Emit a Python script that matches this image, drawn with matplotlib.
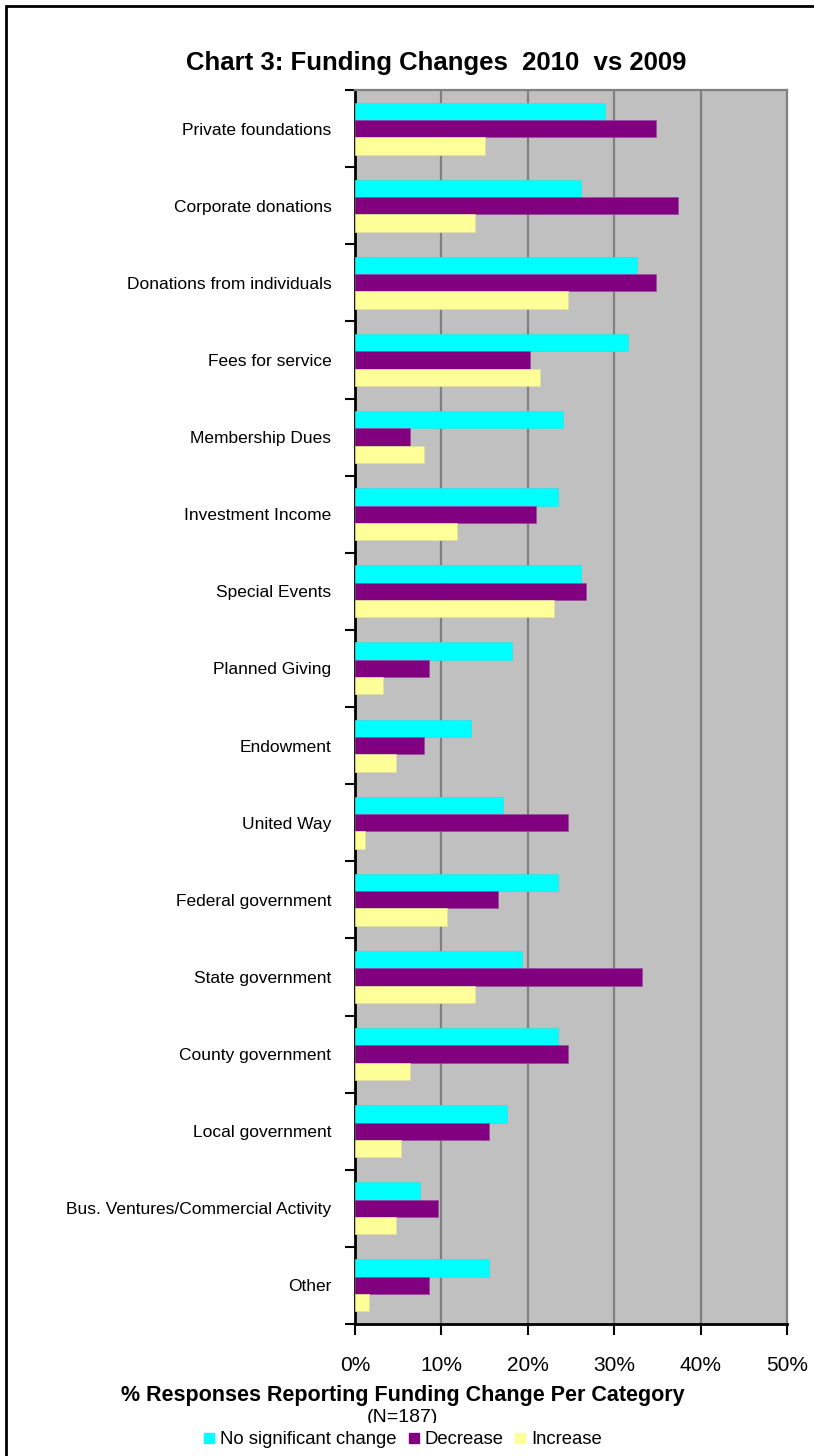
import matplotlib
matplotlib.use('Agg')
import matplotlib.pyplot as plt
from matplotlib.patches import Rectangle
from matplotlib.lines import Line2D
import numpy as np

plt.rcParams['font.family'] = ['Liberation Sans', 'DejaVu Sans']

categories = ['Private foundations', 'Corporate donations', 'Donations from individuals',
              'Fees for service', 'Membership Dues', 'Investment Income', 'Special Events',
              'Planned Giving', 'Endowment', 'United Way', 'Federal government',
              'State government', 'County government', 'Local government',
              'Bus. Ventures/Commercial Activity', 'Other']
no_change = [28.9, 26.2, 32.6, 31.6, 24.1, 23.5, 26.2, 18.2, 13.4, 17.1, 23.5, 19.3, 23.5, 17.6, 7.5, 15.5]
decrease = [34.8, 37.4, 34.8, 20.3, 6.4, 20.9, 26.7, 8.6, 8.0, 24.6, 16.6, 33.2, 24.6, 15.5, 9.6, 8.6]
increase = [15.0, 13.9, 24.6, 21.4, 8.0, 11.8, 23.0, 3.2, 4.8, 1.1, 10.7, 13.9, 6.4, 5.3, 4.8, 1.6]

W, H = 814, 1456
fig = plt.figure(figsize=(W / 100, H / 100), dpi=100)

# outer chart border (right/bottom edges run off the picture)
fig.patches.append(Rectangle((6 / W, -0.1), 1.2, 1 - 6 / H + 0.1, transform=fig.transFigure,
                             fill=False, edgecolor='black', linewidth=2, zorder=0))

ax = fig.add_axes([355 / W, 1 - 1324 / H, (787 - 355) / W, (1324 - 90) / H])
ax.set_facecolor('#C0C0C0')

y = np.arange(len(categories))
h = 0.225
ax.barh(y - h, no_change, height=h, color='#00FFFF', edgecolor='#33E0E0', linewidth=0.5, zorder=3)
ax.barh(y, decrease, height=h, color='#800080', edgecolor='#9A4A9A', linewidth=0.5, zorder=3)
ax.barh(y + h, increase, height=h, color='#FFFF99', edgecolor='#E0E0A0', linewidth=0.5, zorder=3)

ax.set_xlim(0, 50)
ax.set_ylim(len(categories) - 0.5, -0.5)

for gx in [10, 20, 30, 40]:
    ax.axvline(gx, color='#808080', linewidth=1.6, zorder=1)

ax.set_xticks([0, 10, 20, 30, 40, 50])
ax.set_xticklabels(['0%', '10%', '20%', '30%', '40%', '50%'])
ax.tick_params(axis='x', direction='out', length=8, width=1.5, pad=15, labelsize=15)

ax.set_yticks(np.arange(len(categories) + 1) - 0.5)
ax.set_yticklabels([])
ax.set_yticks(y, minor=True)
ax.set_yticklabels(categories, minor=True)
ax.tick_params(axis='y', which='major', direction='out', length=7, width=1.5)
ax.tick_params(axis='y', which='minor', length=0, pad=17, labelsize=12.5)

ax.spines['left'].set_color('black')
ax.spines['left'].set_linewidth(2)
ax.spines['bottom'].set_color('black')
ax.spines['bottom'].set_linewidth(2)
ax.spines['top'].set_color('#808080')
ax.spines['top'].set_linewidth(1.6)
ax.spines['right'].set_color('#808080')
ax.spines['right'].set_linewidth(1.6)

fig.text(436 / W, 1 - 63 / H, 'Chart 3: Funding Changes  2010  vs 2009',
         ha='center', va='center', fontsize=18.5, fontweight='bold')
fig.text(403 / W, 1 - 1395 / H, '% Responses Reporting Funding Change Per Category',
         ha='center', va='center', fontsize=15.5, fontweight='bold')
fig.text(402 / W, 1 - 1417 / H, '(N=187)', ha='center', va='center', fontsize=14, zorder=2)

# legend box hides the lower part of the (N=187) line
fig.patches.append(Rectangle((140 / W, 0), 540 / W, (H - 1423) / H, transform=fig.transFigure,
                             facecolor='white', edgecolor='none', zorder=5))

handles = [Line2D([], [], marker='s', linestyle='none', markersize=7, color=c)
           for c in ['#00FFFF', '#800080', '#FFFF99']]
leg = fig.legend(handles, ['No significant change', 'Decrease', 'Increase'],
                 loc='center', bbox_to_anchor=(403 / W, 1 - 1440 / H), ncol=3,
                 frameon=False, fontsize=13.3, handlelength=0.6, handletextpad=0.3,
                 columnspacing=0.6, borderpad=0)
leg.set_zorder(6)

fig.savefig('out.png', dpi=100)
